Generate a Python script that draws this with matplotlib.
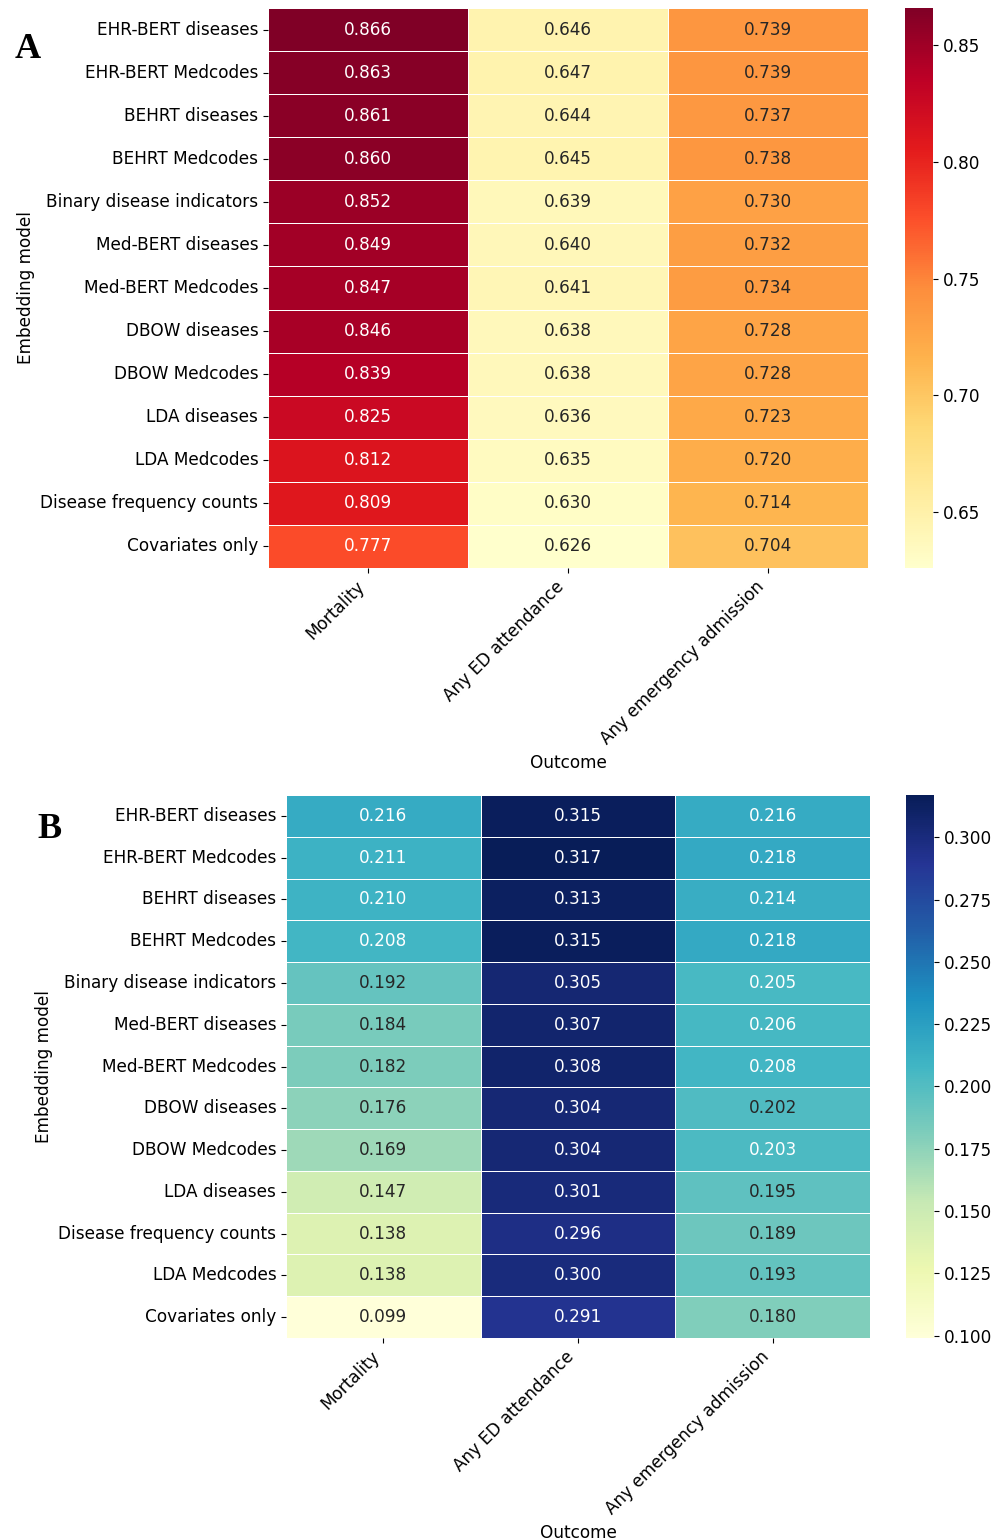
import numpy as np
import pandas as pd
import seaborn as sns
from matplotlib import pyplot as plt

outcomes = ['Mortality', 'Any ED attendance', 'Any emergency admission']

models_a = ['EHR-BERT diseases', 'EHR-BERT Medcodes', 'BEHRT diseases', 'BEHRT Medcodes',
            'Binary disease indicators', 'Med-BERT diseases', 'Med-BERT Medcodes',
            'DBOW diseases', 'DBOW Medcodes', 'LDA diseases', 'LDA Medcodes',
            'Disease frequency counts', 'Covariates only']
mort_a = [0.866, 0.863, 0.861, 0.860, 0.852, 0.849, 0.847, 0.846, 0.839, 0.825, 0.812, 0.809, 0.777]
ed_a = [0.646, 0.647, 0.644, 0.645, 0.639, 0.640, 0.641, 0.638, 0.638, 0.636, 0.635, 0.630, 0.626]
em_a = [0.739, 0.739, 0.737, 0.738, 0.730, 0.732, 0.734, 0.728, 0.728, 0.723, 0.720, 0.714, 0.704]

models_b = ['EHR-BERT diseases', 'EHR-BERT Medcodes', 'BEHRT diseases', 'BEHRT Medcodes',
            'Binary disease indicators', 'Med-BERT diseases', 'Med-BERT Medcodes',
            'DBOW diseases', 'DBOW Medcodes', 'LDA diseases', 'Disease frequency counts',
            'LDA Medcodes', 'Covariates only']
mort_b = [0.216, 0.211, 0.210, 0.208, 0.192, 0.184, 0.182, 0.176, 0.169, 0.147, 0.138, 0.138, 0.099]
ed_b = [0.315, 0.317, 0.313, 0.315, 0.305, 0.307, 0.308, 0.304, 0.304, 0.301, 0.296, 0.300, 0.291]
em_b = [0.216, 0.218, 0.214, 0.218, 0.205, 0.206, 0.208, 0.202, 0.203, 0.195, 0.189, 0.193, 0.180]

df_a = pd.DataFrame({outcomes[0]: mort_a, outcomes[1]: ed_a, outcomes[2]: em_a}, index=models_a)
df_b = pd.DataFrame({outcomes[0]: mort_b, outcomes[1]: ed_b, outcomes[2]: em_b}, index=models_b)

W, H = 994, 1540
fig = plt.figure(figsize=(W / 100, H / 100), dpi=100)
plt.rcParams['font.size'] = 12


def box(x0, y0, x1, y1):
    return [x0 / W, 1 - y1 / H, (x1 - x0) / W, (y1 - y0) / H]


def panel(df, cmap, ax_box, cb_box, letter, letter_xy):
    ax = fig.add_axes(box(*ax_box))
    cax = fig.add_axes(box(*cb_box))
    sns.heatmap(df, ax=ax, cbar_ax=cax, cmap=cmap, annot=True, fmt='.3f',
                linewidths=0.5, linecolor='white', annot_kws={'fontsize': 12.2})
    cax.tick_params(labelsize=12.2)
    ax.tick_params(labelsize=12.2)
    ax.set_xticklabels(ax.get_xticklabels(), rotation=45, ha='right')
    ax.set_yticklabels(ax.get_yticklabels(), rotation=0)
    ax.set_xlabel('Outcome', fontsize=12.2)
    ax.set_ylabel('Embedding model', fontsize=12.2)
    fig.text(letter_xy[0] / W, 1 - letter_xy[1] / H, letter, family='Liberation Serif',
             fontweight='bold', fontsize=26, va='center', ha='left')
    return ax


panel(df_a, 'YlOrRd', (268, 8, 868, 568), (905, 8, 933, 568), 'A', (15, 50))
panel(df_b, 'YlGnBu', (286, 795, 870, 1338), (906, 795, 934, 1338), 'B', (37, 830))

fig.savefig('out.png', dpi=100)
